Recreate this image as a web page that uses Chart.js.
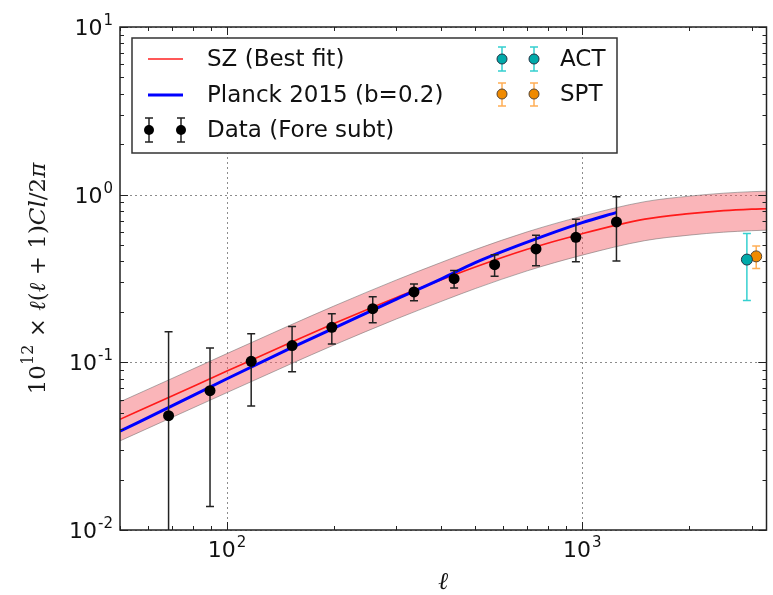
<!DOCTYPE html>
<html>
<head>
<meta charset="utf-8">
<script src="https://cdn.jsdelivr.net/npm/chart.js@4.4.0/dist/chart.umd.min.js"></script>
<style>
  html, body { margin: 0; background: #fff; }
  canvas { display: block; }
</style>
</head>
<body>
<canvas id="c" width="773" height="595"></canvas>
<script>
// SZ best fit curve and its band
const ellGrid = [50, 70, 100, 150, 200, 300, 400, 500, 700, 1000, 1500, 2000, 2500, 3000, 3300];
const szFit   = [0.0457, 0.0630, 0.0887, 0.1305, 0.1703, 0.2438, 0.3095, 0.3700, 0.4719, 0.5854, 0.7144, 0.7704, 0.8027, 0.8194, 0.8250];
const szUpper = [0.0581, 0.0801, 0.1128, 0.1659, 0.2166, 0.3100, 0.3936, 0.4705, 0.6001, 0.7444, 0.9084, 0.9797, 1.0207, 1.0420, 1.0491];
const szLower = [0.0340, 0.0469, 0.0660, 0.0971, 0.1268, 0.1815, 0.2304, 0.2754, 0.3513, 0.4358, 0.5318, 0.5735, 0.5975, 0.6100, 0.6141];

// Planck 2015 (b=0.2)
const planckEll = [50, 70, 100, 150, 200, 300, 400, 500, 700, 1000, 1250];
const planckVal = [0.0388, 0.0550, 0.0798, 0.1207, 0.1599, 0.2381, 0.3133, 0.3930, 0.5208, 0.6808, 0.7843];

// Data (Fore subt)
const dataEll = [68.5, 89.6, 117, 152.5, 197.3, 257.2, 336, 435.8, 566.6, 741, 959.6, 1248];
const dataVal = [0.0481, 0.0678, 0.1014, 0.1258, 0.1617, 0.2090, 0.2630, 0.3155, 0.3825, 0.4745, 0.5564, 0.6877];
const dataErr = [0.104, 0.054, 0.0465, 0.038, 0.033, 0.037, 0.030, 0.038, 0.056, 0.098, 0.158, 0.285];

// ACT / SPT
const actEll = [2906], actVal = [0.41], actErr = [0.176];
const sptEll = [3087], sptVal = [0.4285], sptErr = [0.066];

// axes
const xMin = 50, xMax = 3300, yMin = 0.01, yMax = 10;
const xMajor = [100, 1000], xMajorExp = ["2", "3"];
const yMajor = [10, 1, 0.1, 0.01], yMajorExp = ["1", "0", "-1", "-2"];

const pts = (xs, ys) => xs.map((x, i) => ({ x, y: ys[i] }));

const SANS = "'DejaVu Sans'";
const SERIF = "'DejaVu Serif'";

// error bars drawn just before the marker dataset, via the scales
const errSets = {
  4: { xs: dataEll, vs: dataVal, es: dataErr, color: "#222", cap: 4 },
  5: { xs: actEll, vs: actVal, es: actErr, color: "#35d0d0", cap: 4 },
  6: { xs: sptEll, vs: sptVal, es: sptErr, color: "#ffae55", cap: 4 }
};

function errBar(ctx, px, yHi, yLo, color, cap, lowCap) {
  ctx.strokeStyle = color;
  ctx.lineWidth = 1.5;
  ctx.beginPath();
  ctx.moveTo(px, yHi); ctx.lineTo(px, yLo);
  ctx.moveTo(px - cap, yHi); ctx.lineTo(px + cap, yHi);
  if (lowCap) { ctx.moveTo(px - cap, yLo); ctx.lineTo(px + cap, yLo); }
  ctx.stroke();
}

const errPlugin = {
  id: "errPlugin",
  beforeDatasetDraw(chart, args) {
    const e = errSets[args.index];
    if (!e) return;
    const { ctx, chartArea: a, scales: { x, y } } = chart;
    ctx.save();
    ctx.beginPath();
    ctx.rect(a.left, a.top, a.right - a.left, a.bottom - a.top);
    ctx.clip();
    e.xs.forEach((xv, i) => {
      const px = x.getPixelForValue(xv);
      const hi = e.vs[i] + e.es[i], lo = e.vs[i] - e.es[i];
      const yHi = y.getPixelForValue(hi);
      const yLo = lo > 0 ? y.getPixelForValue(lo) : a.bottom + 5;
      errBar(ctx, px, yHi, yLo, e.color, e.cap, lo > 0);
    });
    ctx.restore();
  }
};

function line(ctx, x1, y1, x2, y2) {
  ctx.beginPath(); ctx.moveTo(x1, y1); ctx.lineTo(x2, y2); ctx.stroke();
}

function powLabel(ctx, exp, x, y, align) {
  // "10" with a raised exponent; y is the baseline of "10"
  const base = "22px " + SANS, sup = "15px " + SANS;
  ctx.font = base; const wb = ctx.measureText("10").width;
  ctx.font = sup; const we = ctx.measureText(exp).width;
  const total = wb + 1 + we;
  const left = align === "center" ? x - total / 2 : x - total;
  ctx.textAlign = "left"; ctx.textBaseline = "alphabetic";
  ctx.font = base; ctx.fillText("10", left, y);
  ctx.font = sup; ctx.fillText(exp, left + wb + 1, y - 10);
}

function marker(ctx, px, py, r, fill, edge) {
  ctx.beginPath(); ctx.arc(px, py, r, 0, Math.PI * 2);
  ctx.fillStyle = fill; ctx.fill();
  if (edge) { ctx.strokeStyle = edge; ctx.lineWidth = 1; ctx.stroke(); }
}

function drawYTitle(ctx, cx, cy) {
  const R = "23px " + SERIF, I = "italic 23px " + SERIF, S = "16px " + SERIF;
  const parts = [
    ["10", R, 0], ["12", S, 12], [" \u00d7 ", R, 0], ["\u2113", I, 0], ["(", R, 0],
    ["\u2113", I, 0], [" + 1)", R, 0], ["Cl", I, 0], ["/2", R, 0], ["\u03c0", I, 0]
  ];
  let total = 0;
  parts.forEach(p => { ctx.font = p[1]; p.w = ctx.measureText(p[0]).width; total += p.w; });
  ctx.save();
  ctx.translate(cx, cy);
  ctx.rotate(-Math.PI / 2);
  ctx.fillStyle = "#1a1a1a";
  ctx.textAlign = "left"; ctx.textBaseline = "alphabetic";
  let xx = -total / 2;
  parts.forEach(p => { ctx.font = p[1]; ctx.fillText(p[0], xx, -p[2]); xx += p.w; });
  ctx.restore();
}

const decoPlugin = {
  id: "decoPlugin",
  beforeDatasetsDraw(chart) {
    const { ctx, chartArea: a, scales: { x, y } } = chart;
    ctx.save();
    ctx.strokeStyle = "#8c8c8c"; ctx.lineWidth = 1; ctx.setLineDash([2, 3]);
    xMajor.forEach(v => { const px = Math.round(x.getPixelForValue(v)) + 0.5; line(ctx, px, a.top, px, a.bottom); });
    yMajor.forEach(v => { const py = Math.round(y.getPixelForValue(v)) + 0.5; line(ctx, a.left, py, a.right, py); });
    ctx.restore();
  },
  afterDatasetsDraw(chart) {
    const { ctx, chartArea: a, scales: { x, y } } = chart;
    ctx.save();
    // ticks, pointing inward on all four sides
    ctx.strokeStyle = "#222"; ctx.lineWidth = 1;
    for (let d = 10; d <= 1000; d *= 10) {
      for (let k = 1; k <= 9; k++) {
        const v = d * k;
        if (v < xMin || v > xMax) continue;
        const px = Math.round(x.getPixelForValue(v)) + 0.5, len = k === 1 ? 8 : 4;
        line(ctx, px, a.bottom, px, a.bottom - len);
        line(ctx, px, a.top, px, a.top + len);
      }
    }
    for (let d = 0.01; d < 10; d *= 10) {
      for (let k = 1; k <= 10; k++) {
        const v = d * k;
        const py = Math.round(y.getPixelForValue(v)) + 0.5, len = (k === 1 || k === 10) ? 8 : 4;
        line(ctx, a.left, py, a.left + len, py);
        line(ctx, a.right, py, a.right - len, py);
      }
    }
    // frame
    ctx.strokeStyle = "#222"; ctx.lineWidth = 1.5;
    ctx.strokeRect(a.left, a.top, a.right - a.left, a.bottom - a.top);

    // tick labels
    ctx.fillStyle = "#111";
    xMajor.forEach((v, i) => powLabel(ctx, xMajorExp[i], x.getPixelForValue(v), a.bottom + 27, "center"));
    yMajor.forEach((v, i) => powLabel(ctx, yMajorExp[i], a.left - 7, y.getPixelForValue(v) + 8, "right"));

    // axis titles
    ctx.font = "italic 24px " + SERIF; ctx.textAlign = "center"; ctx.textBaseline = "alphabetic";
    ctx.fillText("\u2113", (a.left + a.right) / 2, 589);
    drawYTitle(ctx, 45, (a.top + a.bottom) / 2);

    // legend
    ctx.fillStyle = "#fff"; ctx.strokeStyle = "#333"; ctx.lineWidth = 1.5;
    ctx.fillRect(132, 38, 485, 115); ctx.strokeRect(132, 38, 485, 115);
    ctx.lineWidth = 1.5; ctx.strokeStyle = "#ff2020"; line(ctx, 148, 59, 183, 59);
    ctx.lineWidth = 3; ctx.strokeStyle = "#0000ff"; line(ctx, 148, 95, 183, 95);
    [149, 181].forEach(px => { errBar(ctx, px, 118, 142, "#222", 4, true); marker(ctx, px, 130, 5, "#000"); });
    [502, 534].forEach(px => { errBar(ctx, px, 47, 71, "#35d0d0", 4, true); marker(ctx, px, 59, 5, "#00aaaa", "#234"); });
    [502, 534].forEach(px => { errBar(ctx, px, 83, 106, "#ffae55", 4, true); marker(ctx, px, 94, 5, "#f08a00", "#543"); });
    ctx.fillStyle = "#111"; ctx.font = "23px " + SANS; ctx.textAlign = "left"; ctx.textBaseline = "middle";
    ctx.fillText("SZ (Best fit)", 207, 60);
    ctx.fillText("Planck 2015 (b=0.2)", 207, 96);
    ctx.fillText("Data (Fore subt)", 207, 131);
    ctx.fillText("ACT", 560, 60);
    ctx.fillText("SPT", 560, 95);
    ctx.restore();
  }
};

new Chart(document.getElementById("c"), {
  type: "scatter",
  data: {
    datasets: [
      { label: "band upper", data: pts(ellGrid, szUpper), showLine: true, pointRadius: 0,
        borderColor: "rgba(110,110,110,0.55)", borderWidth: 1, cubicInterpolationMode: "monotone",
        backgroundColor: "rgba(245,90,100,0.45)", fill: "+1", order: 5 },
      { label: "band lower", data: pts(ellGrid, szLower), showLine: true, pointRadius: 0,
        borderColor: "rgba(110,110,110,0.55)", borderWidth: 1, cubicInterpolationMode: "monotone",
        fill: false, order: 4 },
      { label: "SZ (Best fit)", data: pts(ellGrid, szFit), showLine: true, pointRadius: 0,
        borderColor: "#ff1a1a", borderWidth: 1.6, cubicInterpolationMode: "monotone", order: 3 },
      { label: "Planck 2015 (b=0.2)", data: pts(planckEll, planckVal), showLine: true, pointRadius: 0,
        borderColor: "#0000ff", borderWidth: 3, cubicInterpolationMode: "monotone", order: 2 },
      { label: "Data (Fore subt)", data: pts(dataEll, dataVal), pointRadius: 5.5,
        backgroundColor: "#000", borderColor: "#000", borderWidth: 0, order: 1 },
      { label: "ACT", data: pts(actEll, actVal), pointRadius: 5.5,
        backgroundColor: "#00aaaa", borderColor: "#234", borderWidth: 1, order: 0 },
      { label: "SPT", data: pts(sptEll, sptVal), pointRadius: 5.5,
        backgroundColor: "#f08a00", borderColor: "#543", borderWidth: 1, order: 0 }
    ]
  },
  options: {
    responsive: false,
    animation: false,
    devicePixelRatio: 1,
    layout: { padding: { left: 120, top: 27, right: 2, bottom: 65 } },
    plugins: { legend: { display: false }, tooltip: { enabled: false } },
    scales: {
      x: { type: "logarithmic", min: xMin, max: xMax, display: false },
      y: { type: "logarithmic", min: yMin, max: yMax, display: false }
    }
  },
  plugins: [errPlugin, decoPlugin]
});
</script>
</body>
</html>
